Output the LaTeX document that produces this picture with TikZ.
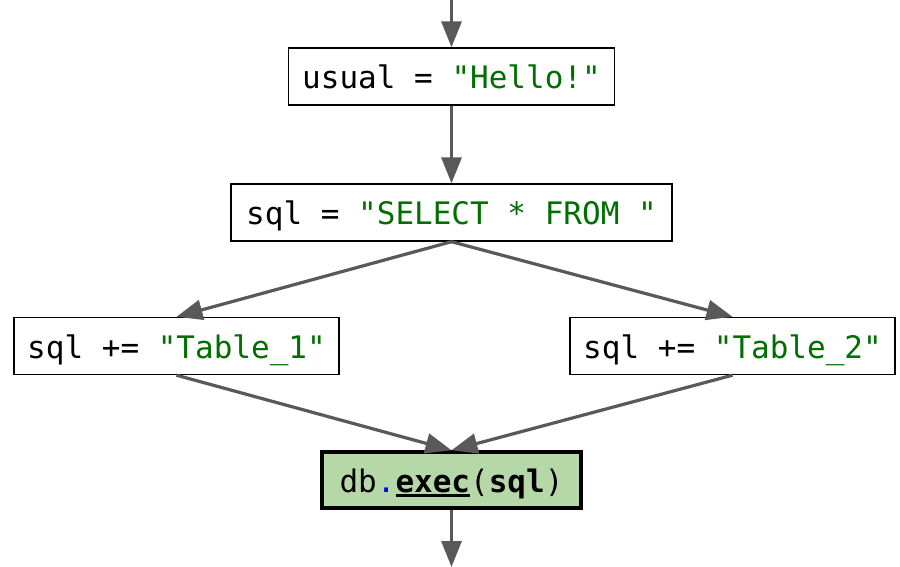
\documentclass[tikz,border=0pt]{standalone}
\usepackage{fontspec}
\setmonofont{DejaVu Sans Mono}
\usetikzlibrary{arrows.meta}
\definecolor{strgreen}{RGB}{0,110,0}
\definecolor{execfill}{RGB}{182,215,168}
\definecolor{arrowgray}{RGB}{89,89,89}
\newcommand\thickul[1]{\setbox0\hbox{#1}\rlap{\rule[-4.5pt]{\wd0}{2.6pt}}\box0}
\begin{document}
\begin{tikzpicture}[x=1pt,y=-1pt,
  codebox/.style={draw=black, line width=1.4pt, fill=white, minimum height=57pt,
    inner xsep=0pt, inner ysep=0pt, text height=26pt, text depth=2pt,
    font=\ttfamily\fontsize{31}{37}\selectfont},
  execbox/.style={codebox, line width=3.4pt, fill=execfill},
  flow/.style={draw=arrowgray, line width=3.2pt, -{Triangle[length=26pt,width=20pt]}}]
\useasboundingbox (0,0) rectangle (900,567);
\coordinate (top) at (451.5,0);
\coordinate (bottom) at (451.5,567);
\node[codebox, minimum width=326pt] (usual) at (451.5,76.5) {usual = \textcolor{strgreen}{"Hello!"}};
\node[codebox, minimum width=441pt] (sql) at (451.5,212.5) {sql = \textcolor{strgreen}{"SELECT * FROM "}};
\node[codebox, minimum width=325pt] (t1) at (176.5,346) {sql += \textcolor{strgreen}{"Table\_1"}};
\node[codebox, minimum width=325pt] (t2) at (732.5,346) {sql += \textcolor{strgreen}{"Table\_2"}};
\node[execbox, minimum width=259pt, minimum height=56pt] (exec) at (451.5,480) {db\textcolor{blue}{.}\thickul{\textbf{exec}}(\textbf{sql})};
\draw[flow] (top) -- (usual.north);
\draw[flow] (usual.south) -- (sql.north);
\draw[flow] (sql.south) -- (t1.north);
\draw[flow] (sql.south) -- (t2.north);
\draw[flow] (t1.south) -- (exec.north);
\draw[flow] (t2.south) -- (exec.north);
\draw[flow] (exec.south) -- (bottom);
\end{tikzpicture}
\end{document}
